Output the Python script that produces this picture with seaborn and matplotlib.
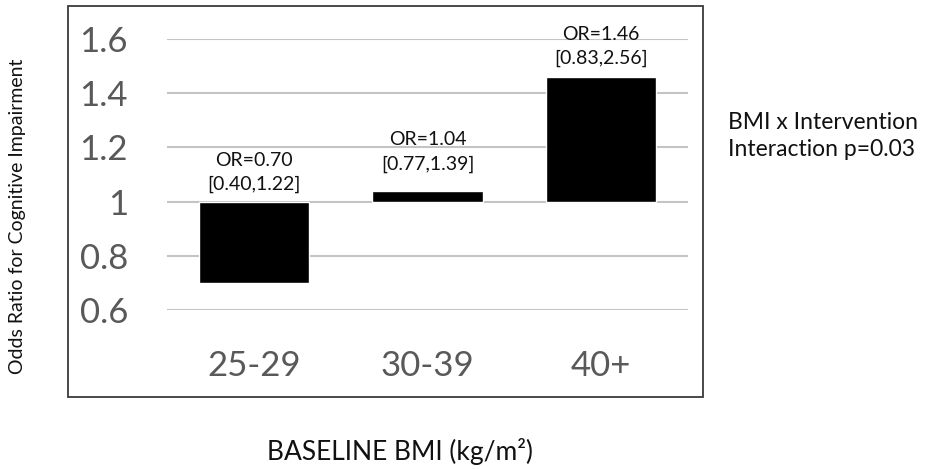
import matplotlib
matplotlib.use("Agg")
import matplotlib.pyplot as plt
import seaborn as sns
import pandas as pd
from matplotlib.patches import Rectangle

categories = ["25-29", "30-39", "40+"]
odds_ratios = [0.70, 1.04, 1.46]
ci_labels = ["[0.40,1.22]", "[0.77,1.39]", "[0.83,2.56]"]
yticks = [0.6, 0.8, 1.0, 1.2, 1.4, 1.6]
ytick_labels = ["0.6", "0.8", "1", "1.2", "1.4", "1.6"]
baseline = 1.0

sns.set_theme(style="white")
plt.rcParams["font.family"] = ["Lato", "DejaVu Sans"]

W, H = 929, 469
fig = plt.figure(figsize=(W / 100, H / 100), dpi=100)

# outer frame
fig.patches.append(Rectangle((68 / W, 1 - 397 / H), (703 - 68) / W, (397 - 6) / H,
                             transform=fig.transFigure, fill=False,
                             edgecolor="#3a3a3a", linewidth=1.3, zorder=0))

ax = fig.add_axes([167 / W, 1 - 310 / H, (688 - 167) / W, (310 - 39) / H])
df = pd.DataFrame({"cat": categories, "diff": [v - baseline for v in odds_ratios]})
sns.barplot(data=df, x="cat", y="diff", bottom=baseline, color="black",
            width=0.635, saturation=1, ax=ax, zorder=3)

ax.set_ylim(0.6, 1.6)
ax.set_xlim(-0.5, 2.5)
ax.set_yticks(yticks)
ax.set_yticklabels(ytick_labels)
ax.grid(axis="y", color="#c4c4c4", linewidth=1.5, zorder=0)
ax.set_axisbelow(True)
for s in ax.spines.values():
    s.set_visible(False)
ax.tick_params(axis="y", length=0, pad=28, labelsize=25, labelcolor="#595959")
ax.tick_params(axis="x", length=0, pad=29, labelsize=25, labelcolor="#595959")
ax.set_xlabel("")
ax.set_ylabel("")

label_offsets = [6, 13, 7]
for i, (o, ci) in enumerate(zip(odds_ratios, ci_labels)):
    top = max(o, baseline)
    ax.annotate(f"OR={o:.2f}\n{ci}", xy=(i, top), xytext=(0, label_offsets[i]),
                textcoords="offset points", ha="center", va="bottom",
                fontsize=14, color="#111111", linespacing=1.5,
                annotation_clip=False)

fig.text(728 / W, 1 - 136 / H, "BMI x Intervention\nInteraction p=0.03",
         ha="left", va="center", fontsize=16.5, color="#111111", linespacing=1.3)
fig.text(400 / W, 1 - 451 / H, "BASELINE BMI (kg/m²)", ha="center", va="center",
         fontsize=19, color="#111111")
fig.text(18 / W, 1 - 216 / H, "Odds Ratio for Cognitive Impairment", ha="center",
         va="center", rotation=90, fontsize=14, color="#111111")

fig.savefig("out.png", dpi=100)
